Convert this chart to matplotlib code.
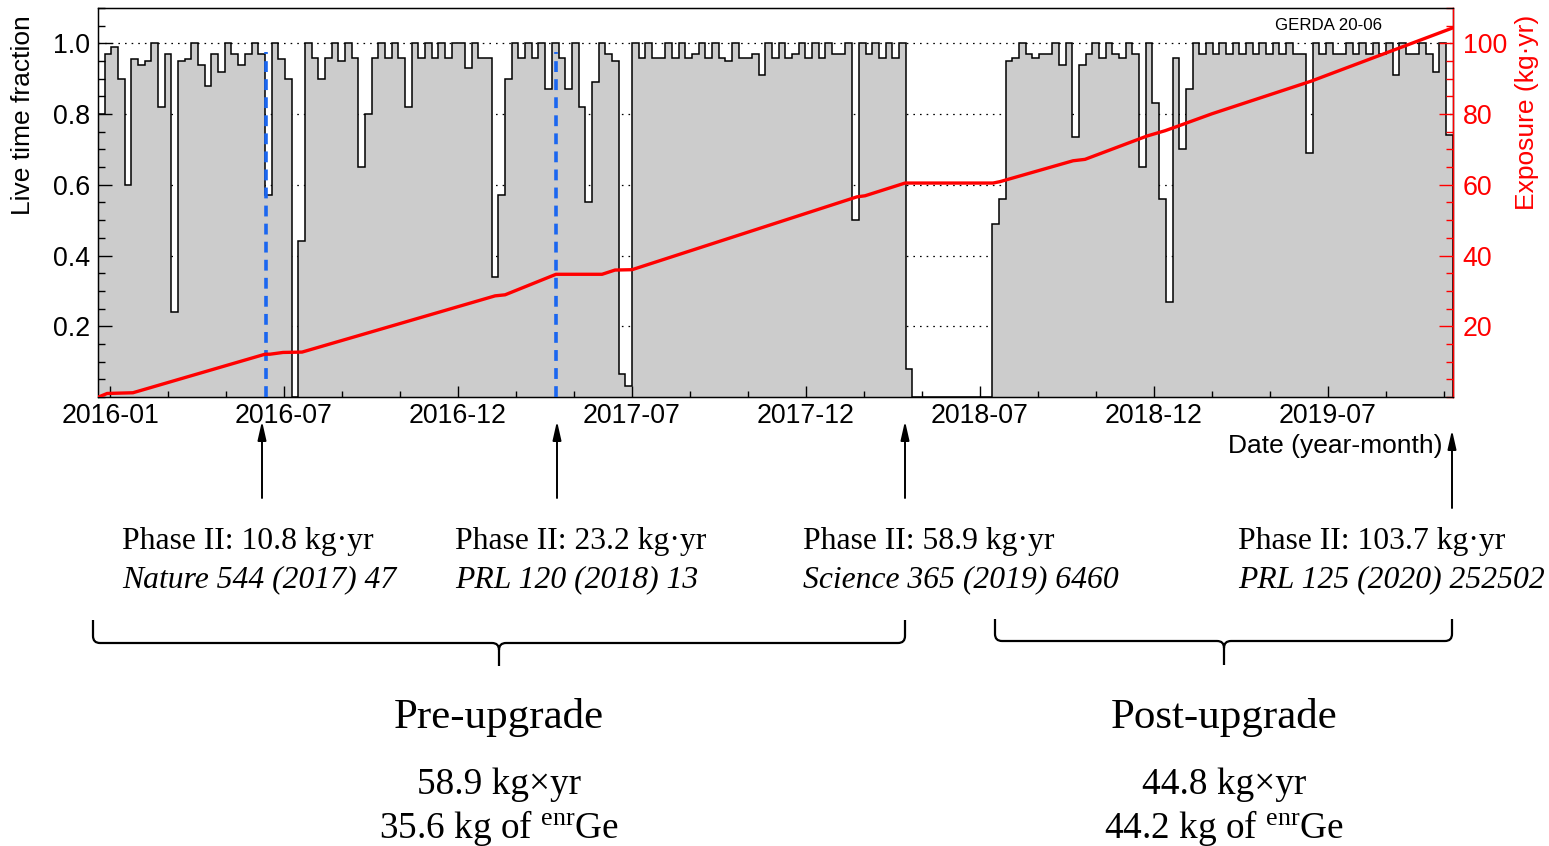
import numpy as np
import matplotlib
matplotlib.use("Agg")
import matplotlib.pyplot as plt
from matplotlib.transforms import Affine2D
from matplotlib.path import Path
from matplotlib.patches import PathPatch, FancyArrowPatch
from matplotlib.ticker import MultipleLocator, FixedLocator, FixedFormatter

# x axis: days since 2016-01-01, weekly bins
first_edge = -12.6
week = 7.0
live = [
    0.80, 0.97, 0.99, 0.90, 0.60, 0.955, 0.94, 0.95, 1.0, 0.82,
    0.97, 0.24, 0.95, 0.955, 1.0, 0.94, 0.88, 0.97, 0.92, 1.0,
    0.97, 0.94, 0.97, 1.0, 0.97, 0.57, 1.0, 0.955, 0.90, 0.0,
    0.44, 1.0, 0.96, 0.90, 0.96, 1.0, 0.95, 1.0, 0.96, 0.65,
    0.80, 0.96, 1.0, 0.96, 1.0, 0.96, 0.82, 1.0, 0.96, 1.0,
    0.96, 1.0, 0.96, 1.0, 1.0, 0.93, 1.0, 0.96, 0.96, 0.34,
    0.57, 0.90, 1.0, 0.96, 1.0, 0.96, 1.0, 0.87, 1.0, 0.96,
    0.87, 1.0, 0.82, 0.55, 0.89, 1.0, 0.97, 0.95, 0.065, 0.03,
    1.0, 0.96, 1.0, 0.96, 0.96, 1.0, 0.96, 1.0, 0.96, 0.97,
    1.0, 0.96, 1.0, 0.96, 0.95, 1.0, 0.96, 0.96, 0.97, 0.91,
    1.0, 0.96, 1.0, 0.96, 0.97, 1.0, 0.96, 1.0, 0.96, 1.0,
    0.97, 0.97, 1.0, 0.50, 1.0, 0.97, 1.0, 0.96, 1.0, 0.96,
    1.0, 0.08,
    0.0, 0.0, 0.0, 0.0, 0.0, 0.0, 0.0, 0.0, 0.0, 0.0, 0.0, 0.0,
    0.49, 0.56, 0.95, 0.96, 1.0, 0.97, 0.96, 0.97, 0.97, 1.0,
    0.94, 1.0, 0.735, 0.94, 0.97, 1.0, 0.96, 1.0, 0.97, 0.96,
    1.0, 0.97, 0.65, 1.0, 0.83, 0.56, 0.27, 0.96, 0.70, 0.87,
    1.0, 0.97, 1.0, 0.97, 1.0, 0.97, 1.0, 0.97, 1.0, 0.97,
    1.0, 0.97, 1.0, 0.97, 1.0, 0.97, 0.97, 0.69, 1.0, 0.97,
    1.0, 0.97, 0.97, 1.0, 0.97, 1.0, 0.97, 1.0, 0.97, 1.0,
    0.91, 1.0, 0.97, 0.97, 1.0, 0.97, 0.92, 1.0, 0.74,
]

# cumulative exposure (kg*yr)
exp_days = [-12, -3, 24, 162.6, 167.8, 181.5, 201.4, 403.9, 414.4, 467.8,
            516.1, 529.7, 547.5, 783.5, 791.9, 833.9, 926.2, 933.5, 1010.1,
            1022.6, 1087.7, 1106.6, 1118.1, 1155.9, 1259.7, 1408.6]
exp_vals = [0.0, 1.0, 1.2, 12.1, 12.1, 12.6, 12.7, 28.6, 28.9, 34.7,
            34.7, 35.9, 36.0, 56.6, 56.9, 60.5, 60.5, 60.9, 66.8,
            67.2, 73.8, 75.3, 76.4, 80.1, 89.3, 104.4]

release_days = [164.1, 468.3]

tick_labels = ["2016-01", "2016-07", "2016-12", "2017-07",
               "2017-12", "2018-07", "2018-12", "2019-07"]
half_year = 182.5

plt.rcParams["font.family"] = ["Liberation Sans", "DejaVu Sans"]
plt.rcParams["mathtext.fontset"] = "custom"
plt.rcParams["mathtext.rm"] = "Liberation Serif"
plt.rcParams["mathtext.it"] = "Liberation Serif:italic"

W, H = 1549, 846
fig = plt.figure(figsize=(W / 100, H / 100), dpi=100)
px = Affine2D().scale(1 / W, -1 / H).translate(0, 1) + fig.transFigure

ax = fig.add_axes([98 / W, 1 - 397 / H, 1355 / W, 389 / H])

edges = first_edge + week * np.arange(len(live) + 1)
for yv in [0.2, 0.4, 0.6, 0.8, 1.0]:
    ax.axhline(yv, color="black", lw=0.9, ls=(0, (1.3, 4.0)), zorder=0.5)
ax.stairs(live, edges, fill=True, color="#cccccc", zorder=1)
ax.stairs(live, edges, color="black", lw=1.1, zorder=2)
ax.vlines(release_days, 0, 0.975, colors="#1a66f0", lw=2.6,
          linestyles=(0, (3.0, 2.0)), zorder=3)

ax.set_xlim(-12.6, 1408.6)
ax.set_ylim(0, 1.1)

ax.xaxis.set_major_locator(FixedLocator(np.arange(len(tick_labels)) * half_year))
ax.xaxis.set_major_formatter(FixedFormatter(tick_labels))
ax.xaxis.set_minor_locator(MultipleLocator(half_year / 3))
ax.yaxis.set_major_locator(FixedLocator([0.2, 0.4, 0.6, 0.8, 1.0]))
ax.yaxis.set_major_formatter(FixedFormatter(["0.2", "0.4", "0.6", "0.8", "1.0"]))
ax.yaxis.set_minor_locator(MultipleLocator(0.05))
ax.tick_params(axis="both", which="both", direction="in", top=False, right=False,
               labelsize=19.3, width=1.0)
ax.tick_params(axis="x", which="major", length=8, pad=4)
ax.tick_params(axis="x", which="minor", length=4.5)
ax.tick_params(axis="y", which="major", length=10, pad=6)
ax.tick_params(axis="y", which="minor", length=5)
for s in ax.spines.values():
    s.set_linewidth(1.0)

ax2 = ax.twinx()
ax2.plot(exp_days, exp_vals, color="red", lw=2.4, zorder=5)
ax2.set_ylim(0, 110)
ax2.yaxis.set_major_locator(FixedLocator([20, 40, 60, 80, 100]))
ax2.yaxis.set_minor_locator(MultipleLocator(5))
ax2.tick_params(axis="y", which="both", direction="in", colors="red",
                labelsize=19.3, width=1.0)
ax2.tick_params(axis="y", which="major", length=10, pad=7)
ax2.tick_params(axis="y", which="minor", length=5)
ax2.spines["right"].set_color("red")
ax2.spines["right"].set_linewidth(1.0)

# axis titles
fig.text(23, 15, "Live time fraction", transform=px, rotation=90,
         ha="center", va="top", fontsize=19)
fig.text(1527, 15, "Exposure (kg\u00b7yr)", transform=px, rotation=90,
         ha="center", va="top", fontsize=19, color="red")
fig.text(1443, 446, "Date (year-month)", transform=px, ha="right",
         va="center", fontsize=19)
fig.text(1329, 25, "GERDA 20-06", transform=px, ha="center", va="center",
         fontsize=12.2)

# arrows to the releases
for xa, y0, y1 in [(262, 498, 421), (557, 498, 421), (905, 498, 421),
                   (1452, 508, 430)]:
    fig.add_artist(FancyArrowPatch((xa, y0), (xa, y1), transform=px,
                                   arrowstyle="-|>,head_length=0.75,head_width=0.17",
                                   mutation_scale=15, lw=1.4, color="black",
                                   shrinkA=0, shrinkB=0))

serif = ["Liberation Serif", "DejaVu Serif"]
notes = [(122, "Phase II: 10.8 kg\u00b7yr", "Nature 544 (2017) 47"),
         (455, "Phase II: 23.2 kg\u00b7yr", "PRL 120 (2018) 13"),
         (803, "Phase II: 58.9 kg\u00b7yr", "Science 365 (2019) 6460"),
         (1238, "Phase II: 103.7 kg\u00b7yr", "PRL 125 (2020) 252502")]
for xn, l1, l2 in notes:
    fig.text(xn, 549, l1, transform=px, ha="left", va="baseline",
             fontsize=22.8, family=serif)
    fig.text(xn, 587, l2, transform=px, ha="left", va="baseline",
             fontsize=22.8, family=serif, style="italic")


def brace(x0, x1, xc, ytop, ybar, ytip, r=7):
    verts = [(x0, ytop), (x0, ybar - r), (x0, ybar), (x0 + r, ybar),
             (xc - r, ybar), (xc, ybar), (xc, ybar + r), (xc, ytip),
             (x1, ytop), (x1, ybar - r), (x1, ybar), (x1 - r, ybar),
             (xc + r, ybar), (xc, ybar), (xc, ybar + r)]
    codes = [Path.MOVETO, Path.LINETO, Path.CURVE3, Path.CURVE3,
             Path.LINETO, Path.CURVE3, Path.CURVE3, Path.LINETO,
             Path.MOVETO, Path.LINETO, Path.CURVE3, Path.CURVE3,
             Path.LINETO, Path.CURVE3, Path.CURVE3]
    fig.add_artist(PathPatch(Path(verts, codes), transform=px, fill=False,
                             lw=1.6, color="black"))


brace(93, 905, 499, 620, 643, 666)
brace(995, 1452, 1224, 619, 641, 665)

groups = [(499, "Pre-upgrade", "58.9 kg\u00d7yr", "35.6 kg of $^{\\mathrm{enr}}$Ge"),
          (1224, "Post-upgrade", "44.8 kg\u00d7yr", "44.2 kg of $^{\\mathrm{enr}}$Ge")]
for xg, title, e, m in groups:
    fig.text(xg, 728, title, transform=px, ha="center", va="baseline",
             fontsize=31, family=serif)
    fig.text(xg, 794, e, transform=px, ha="center", va="baseline",
             fontsize=26.8, family=serif)
    fig.text(xg, 838, m, transform=px, ha="center", va="baseline",
             fontsize=26.8, family=serif)

fig.savefig("out.png", dpi=100)
